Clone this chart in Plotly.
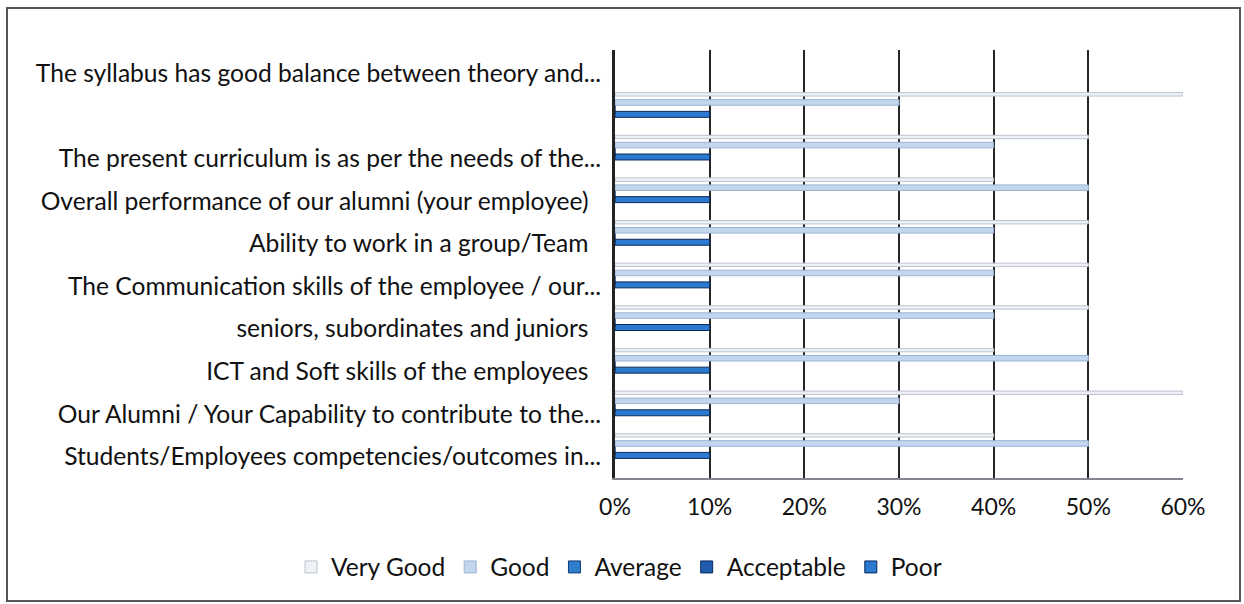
import plotly.graph_objects as go

NB = "\u00a0"
categories = [
    "Students/Employees competencies/outcomes in...",
    "Our Alumni / Your Capability to contribute to the...",
    "ICT and Soft skills of the employees" + NB * 2,
    "seniors, subordinates and juniors" + NB * 2,
    "The Communication skills of the employee / our...",
    "Ability to work in a group/Team" + NB * 2,
    "Overall performance of our alumni (your employee)" + NB * 2,
    "The present curriculum is as per the needs of the...",
    NB,
    "The syllabus has good balance between theory and...",
]
very_good = [40, 60, 40, 50, 50, 50, 40, 50, 60, None]
good = [50, 30, 50, 40, 40, 40, 50, 40, 30, None]
average = [0, 0, 0, 0, 0, 0, 0, 0, 0, None]
acceptable = [0, 0, 0, 0, 0, 0, 0, 0, 0, None]
poor = [10, 10, 10, 10, 10, 10, 10, 10, 10, None]
x_ticks = [0, 10, 20, 30, 40, 50, 60]
x_tick_labels = ["0%", "10%", "20%", "30%", "40%", "50%", "60%"]

# name, values, fill, outline, bar width, offset (category units)
series = [
    ("Poor", poor, "#2b7ad0", "#0b2a5c", 0.14, -0.04),
    ("Acceptable", acceptable, "#1f5cae", "#0b2a5c", 0.10, 0.05),
    ("Average", average, "#2f7dcc", "#123a78", 0.10, 0.15),
    ("Good", good, "#c3d6ee", "#9ab3d4", 0.13, 0.245),
    ("Very Good", very_good, "#eef1f6", "#bcc3cf", 0.08, 0.46),
]

fig = go.Figure()
for name, vals, col, line, w, off in series:
    fig.add_trace(go.Bar(
        y=categories, x=vals, name=name, orientation="h",
        width=w, offset=off,
        marker=dict(color=col, line=dict(color=line, width=1)),
    ))

L, R, T, B = 615, 1183, 50, 478
PW, PH = R - L, B - T

font = "Lato, 'Open Sans', sans-serif"
fig.update_layout(
    width=1244, height=604,
    margin=dict(l=L, r=1244 - R, t=T, b=604 - B, autoexpand=False),
    barmode="group",
    paper_bgcolor="white", plot_bgcolor="white",
    font=dict(family=font, size=24, color="#111"),
    showlegend=True,
    legend=dict(orientation="h",
                x=(291 - L) / PW, xanchor="left",
                y=(B - 567) / PH, yanchor="middle",
                traceorder="reversed", font=dict(size=24.5), itemwidth=30,
                bgcolor="rgba(0,0,0,0)"),
    xaxis=dict(range=[0, 60], tickvals=x_ticks, ticktext=x_tick_labels,
               showgrid=True, gridcolor="#262626", gridwidth=2,
               showline=True, linecolor="#8a8290", linewidth=2, mirror=False,
               zeroline=False, ticks="", ticklabelstandoff=7,
               automargin=False, tickfont=dict(size=23)),
    yaxis=dict(type="category", categoryorder="array", categoryarray=categories,
               showline=True, linecolor="#222", linewidth=3, mirror=False,
               showgrid=False, ticks="", ticklabelstandoff=6,
               automargin=False, tickfont=dict(size=24.6)),
    shapes=[dict(type="rect", xref="paper", yref="paper",
                 x0=(7 - L) / PW, x1=(1240 - L) / PW,
                 y0=(B - 601) / PH, y1=1 + (T - 8) / PH,
                 line=dict(color="#555", width=2), layer="below")],
)

fig.write_html("out.html", config={"displayModeBar": False},
               post_script="document.body.style.margin='0';document.body.style.padding='0';")
